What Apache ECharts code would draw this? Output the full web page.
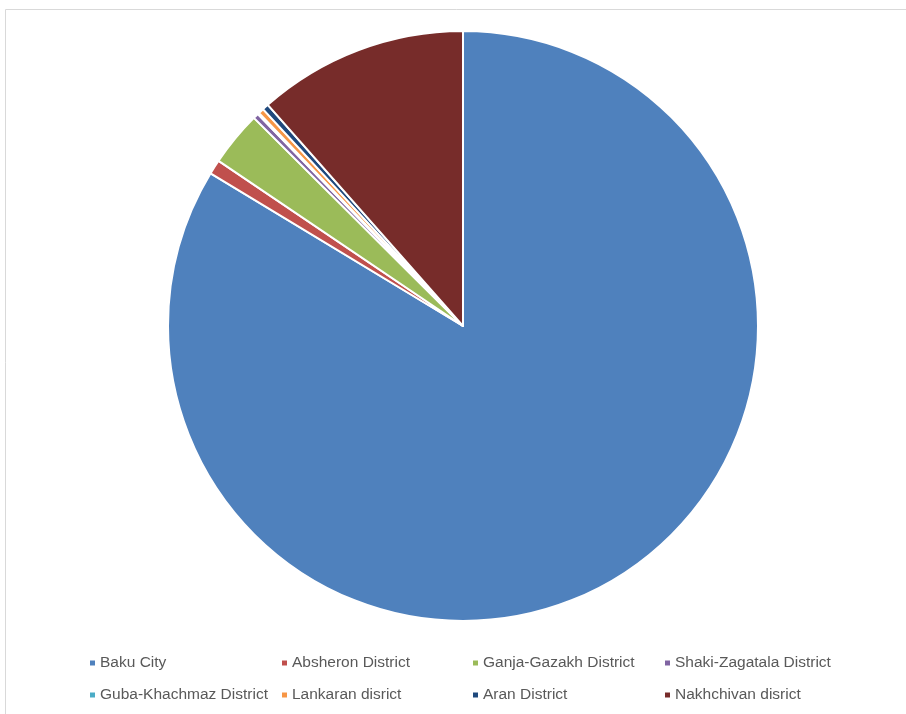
<!DOCTYPE html>
<html>
<head>
<meta charset="utf-8">
<script src="https://cdn.jsdelivr.net/npm/echarts@6/dist/echarts.min.js"></script>
<style>
  html, body { margin: 0; padding: 0; background: #fff; }
  #main { width: 906px; height: 714px; }
</style>
</head>
<body>
<div id="main"></div>
<script>
const categories = ['Baku City', 'Absheron District', 'Ganja-Gazakh District', 'Shaki-Zagatala District',
  'Guba-Khachmaz District', 'Lankaran disrict', 'Aran District', 'Nakhchivan disrict'];
// share of total, in percent
const values = [83.6, 0.8, 3.0, 0.3, 0.08, 0.3, 0.35, 11.5];
const colors = ['#4F81BD', '#C0504D', '#9BBB59', '#8064A2', '#4BACC6', '#F79646', '#1F497D', '#772C2A'];

const chart = echarts.init(document.getElementById('main'));

const legendFont = 'Liberation Sans, sans-serif';
const columnsLeft = [83, 275, 466, 658];

// One vertical legend per column, two rows each
const legends = columnsLeft.map((left, i) => ({
  data: [categories[i], categories[i + 4]],
  orient: 'vertical',
  left: left,
  top: 650,
  itemWidth: 7,
  itemHeight: 7,
  itemGap: 16,
  icon: 'rect',
  selectedMode: false,
  textStyle: { fontFamily: legendFont, fontSize: 15.5, color: '#595959', padding: [0, 0, 0, -1] }
}));

chart.setOption({
  animation: false,
  color: colors,
  graphic: [{
    type: 'rect',
    shape: { x: 5.5, y: 9.5, width: 920, height: 720 },
    style: { fill: 'none', stroke: '#d9d9d9', lineWidth: 1 },
    silent: true
  }],
  legend: legends,
  series: [{
    type: 'pie',
    center: [463, 326],
    radius: 295,
    startAngle: 90,
    clockwise: true,
    label: { show: false },
    labelLine: { show: false },
    itemStyle: { borderColor: '#fff', borderWidth: 2 },
    emphasis: { disabled: true },
    data: categories.map((name, i) => ({ name: name, value: values[i] }))
  }]
});
</script>
</body>
</html>
